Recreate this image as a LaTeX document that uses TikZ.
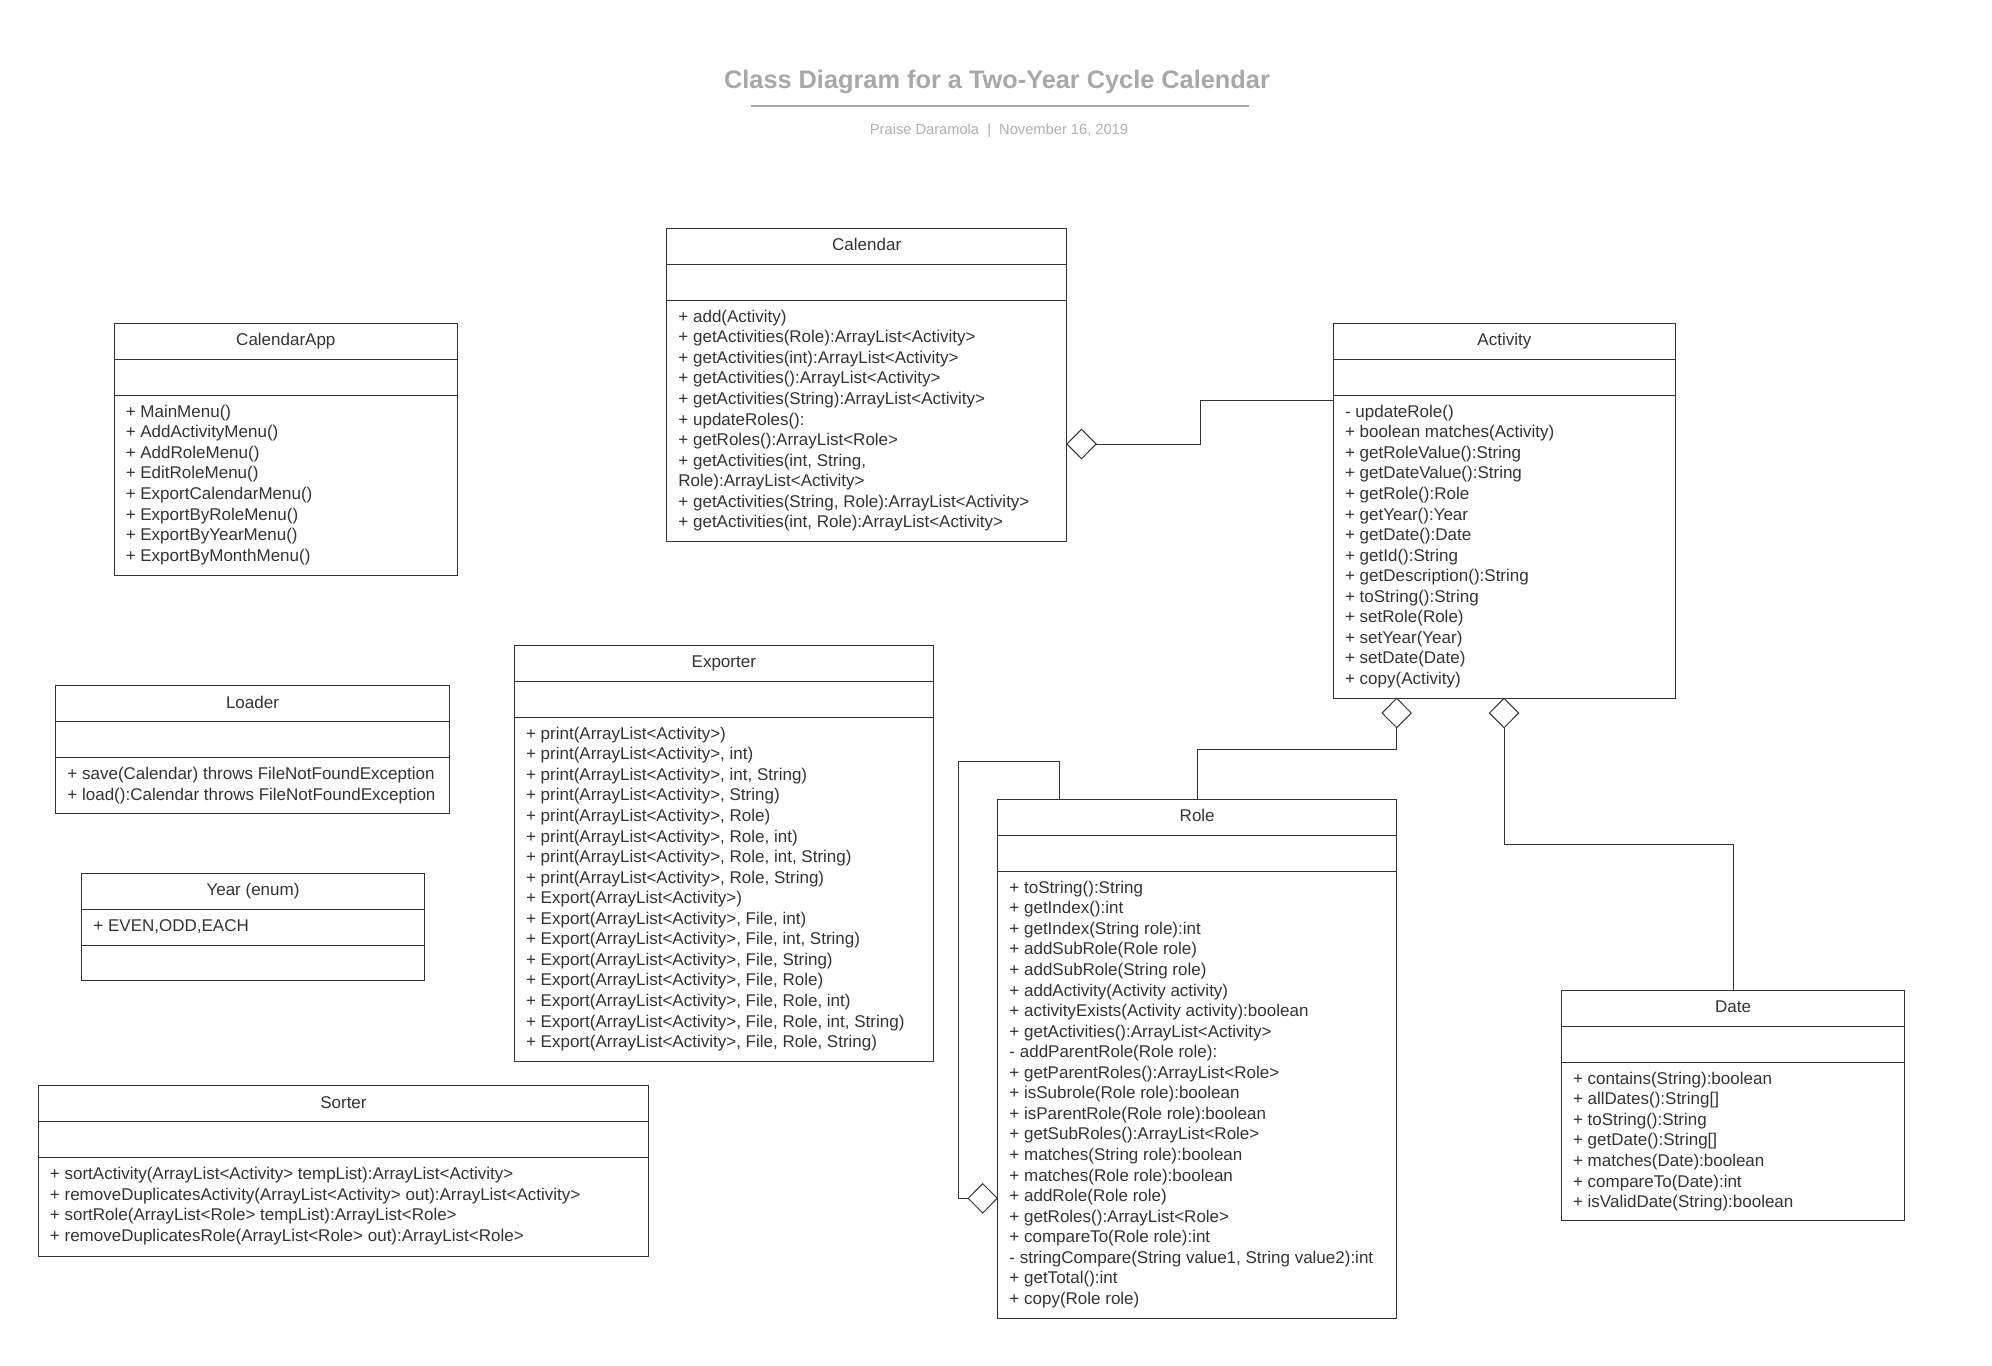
\documentclass[tikz,border=0pt]{standalone}
\usepackage{fontspec}
\setmainfont{Liberation Sans}
\usetikzlibrary{shapes.geometric,calc}
\definecolor{ink}{HTML}{333333}
\definecolor{titlegray}{HTML}{A8A8A8}
\definecolor{subgray}{HTML}{B0B0B0}
\newcommand\umlfont{\fontsize{12.75pt}{15.4pt}\selectfont}
\tikzset{
  frame/.style={draw=ink, line width=0.75pt, inner sep=0pt, outer sep=0pt, anchor=north west},
  sepline/.style={draw=ink, line width=0.75pt},
  conn/.style={draw=ink, line width=0.75pt},
  agg/.style={shape=diamond, draw=ink, line width=0.7pt, fill=white, inner sep=0pt, outer sep=0pt, minimum width=21.9pt, minimum height=22pt},
  rowtext/.style={anchor=base west, inner sep=0pt, text=ink, font=\umlfont},
  titletext/.style={anchor=base, inner sep=0pt, text=ink, font=\umlfont},
}
% #1 name, #2 x1, #3 top, #4 x2, #5 bottom, #6 title
\newcommand\umlclass[6]{%
  \node[frame, minimum width={(#4-#2)*0.75pt}, minimum height={(#5-#3)*0.75pt}] (#1) at (#2,#3) {};
  \draw[sepline] (#2,{#3+36}) -- (#4,{#3+36});
  \draw[sepline] (#2,{#3+72}) -- (#4,{#3+72});
  \node[titletext] (#1-title) at ({(#2+#4)/2},{#3+22.5}) {#6};
}
% #1 name prefix, #2 x, #3 first baseline, #4 list
\newcommand\umlrows[4]{%
  \foreach \rowtxt [count=\i from 0] in {#4} {\node[rowtext] (#1-\i) at ({#2},{#3+1+\i*20.55}) {\rowtxt};}
}
\begin{document}
\begin{tikzpicture}[x=0.75pt,y=-0.75pt]
\fill[white] (0,0) rectangle (1992,1365);
\useasboundingbox (0,0) rectangle (1992,1365);

% Title block
\node[anchor=base, inner sep=0pt, text=titlegray, font=\bfseries\fontsize{19pt}{23pt}\selectfont] (title) at (997,88.3) {Class Diagram for a Two-Year Cycle Calendar};
\coordinate (rulel) at (750.8,105.7);
\coordinate (ruler) at (1249,105.7);
\draw[titlegray, line width=1.5pt] (rulel) -- (ruler);
\node[anchor=base, inner sep=0pt, text=subgray, font=\fontsize{11pt}{14pt}\selectfont] (sub) at (999,134) {Praise Daramola\ \ |\ \ November 16, 2019};

% CalendarApp
\umlclass{capp}{114}{323.3}{457.7}{575}{CalendarApp}
\umlrows{capp-r}{125.5}{416.3}{{+ MainMenu()},{+ AddActivityMenu()},{+ AddRoleMenu()},{+ EditRoleMenu()},{+ ExportCalendarMenu()},{+ ExportByRoleMenu()},{+ ExportByYearMenu()},{+ ExportByMonthMenu()}}

% Calendar
\umlclass{cal}{666.7}{228.3}{1066.7}{541}{Calendar}
\umlrows{cal-r}{678.2}{321.3}{{+ add(Activity)},{+ getActivities(Role):ArrayList<Activity>},{+ getActivities(int):ArrayList<Activity>},{+ getActivities():ArrayList<Activity>},{+ getActivities(String):ArrayList<Activity>},{+ updateRoles():},{+ getRoles():ArrayList<Role>},{+ getActivities(int, String,},{Role):ArrayList<Activity>},{+ getActivities(String, Role):ArrayList<Activity>},{+ getActivities(int, Role):ArrayList<Activity>}}

% Activity
\umlclass{act}{1333.3}{323.3}{1675.5}{698.2}{Activity}
\umlrows{act-r}{1344.8}{416.3}{{- updateRole()},{+ boolean matches(Activity)},{+ getRoleValue():String},{+ getDateValue():String},{+ getRole():Role},{+ getYear():Year},{+ getDate():Date},{+ getId():String},{+ getDescription():String},{+ toString():String},{+ setRole(Role)},{+ setYear(Year)},{+ setDate(Date)},{+ copy(Activity)}}

% Loader
\umlclass{load}{55.7}{685.7}{449.3}{813.3}{Loader}
\umlrows{load-r}{67.2}{778.7}{{+ save(Calendar) throws FileNotFoundException},{+ load():Calendar throws FileNotFoundException}}

% Year (enum)
\umlclass{year}{81.7}{873.3}{424.3}{980}{Year (enum)}
\umlrows{year-r}{93.2}{930.3}{{+ EVEN,ODD,EACH}}

% Exporter
\umlclass{exp}{514.3}{645.3}{933.3}{1061}{Exporter}
\umlrows{exp-r}{525.8}{738.3}{{+ print(ArrayList<Activity>)},{+ print(ArrayList<Activity>, int)},{+ print(ArrayList<Activity>, int, String)},{+ print(ArrayList<Activity>, String)},{+ print(ArrayList<Activity>, Role)},{+ print(ArrayList<Activity>, Role, int)},{+ print(ArrayList<Activity>, Role, int, String)},{+ print(ArrayList<Activity>, Role, String)},{+ Export(ArrayList<Activity>)},{+ Export(ArrayList<Activity>, File, int)},{+ Export(ArrayList<Activity>, File, int, String)},{+ Export(ArrayList<Activity>, File, String)},{+ Export(ArrayList<Activity>, File, Role)},{+ Export(ArrayList<Activity>, File, Role, int)},{+ Export(ArrayList<Activity>, File, Role, int, String)},{+ Export(ArrayList<Activity>, File, Role, String)}}

% Sorter
\umlclass{sort}{38.2}{1085.5}{648.7}{1256}{Sorter}
\umlrows{sort-r}{49.7}{1178.5}{{+ sortActivity(ArrayList<Activity> tempList):ArrayList<Activity>},{+ removeDuplicatesActivity(ArrayList<Activity> out):ArrayList<Activity>},{+ sortRole(ArrayList<Role> tempList):ArrayList<Role>},{+ removeDuplicatesRole(ArrayList<Role> out):ArrayList<Role>}}

% Role
\umlclass{role}{997.7}{799.3}{1396.7}{1318.3}{Role}
\umlrows{role-r}{1009.2}{892.3}{{+ toString():String},{+ getIndex():int},{+ getIndex(String role):int},{+ addSubRole(Role role)},{+ addSubRole(String role)},{+ addActivity(Activity activity)},{+ activityExists(Activity activity):boolean},{+ getActivities():ArrayList<Activity>},{- addParentRole(Role role):},{+ getParentRoles():ArrayList<Role>},{+ isSubrole(Role role):boolean},{+ isParentRole(Role role):boolean},{+ getSubRoles():ArrayList<Role>},{+ matches(String role):boolean},{+ matches(Role role):boolean},{+ addRole(Role role)},{+ getRoles():ArrayList<Role>},{+ compareTo(Role role):int},{- stringCompare(String value1, String value2):int},{+ getTotal():int},{+ copy(Role role)}}

% Date
\umlclass{date}{1561.3}{990.3}{1904.7}{1220.3}{Date}
\umlrows{date-r}{1572.8}{1083.3}{{+ contains(String):boolean},{+ allDates():String[]},{+ toString():String},{+ getDate():String[]},{+ matches(Date):boolean},{+ compareTo(Date):int},{+ isValidDate(String):boolean}}

% Aggregation diamonds
\node[agg] (dcal) at (1081.5,444) {};
\node[agg] (dact1) at (1396.7,713) {};
\node[agg] (dact2) at (1504,713) {};
\node[agg] (drole) at (982.7,1198.3) {};

% Connectors
\coordinate (c1) at (1200,400);
\draw[conn] (dcal.east) -| (c1) -- (c1 -| act.west);

\coordinate (c2) at (1396.7,749.3);
\draw[conn] (dact1.south) -- (c2) -| (role.north);

\coordinate (c3) at (1733.3,844.3);
\draw[conn] (dact2.south) |- (c3) -- (c3 |- date.north);

\coordinate (c4a) at (958.3,761.7);
\coordinate (c4b) at (1059.3,799.3);
\draw[conn] (drole.west) -| (c4a) -| (c4b);
\end{tikzpicture}
\end{document}
